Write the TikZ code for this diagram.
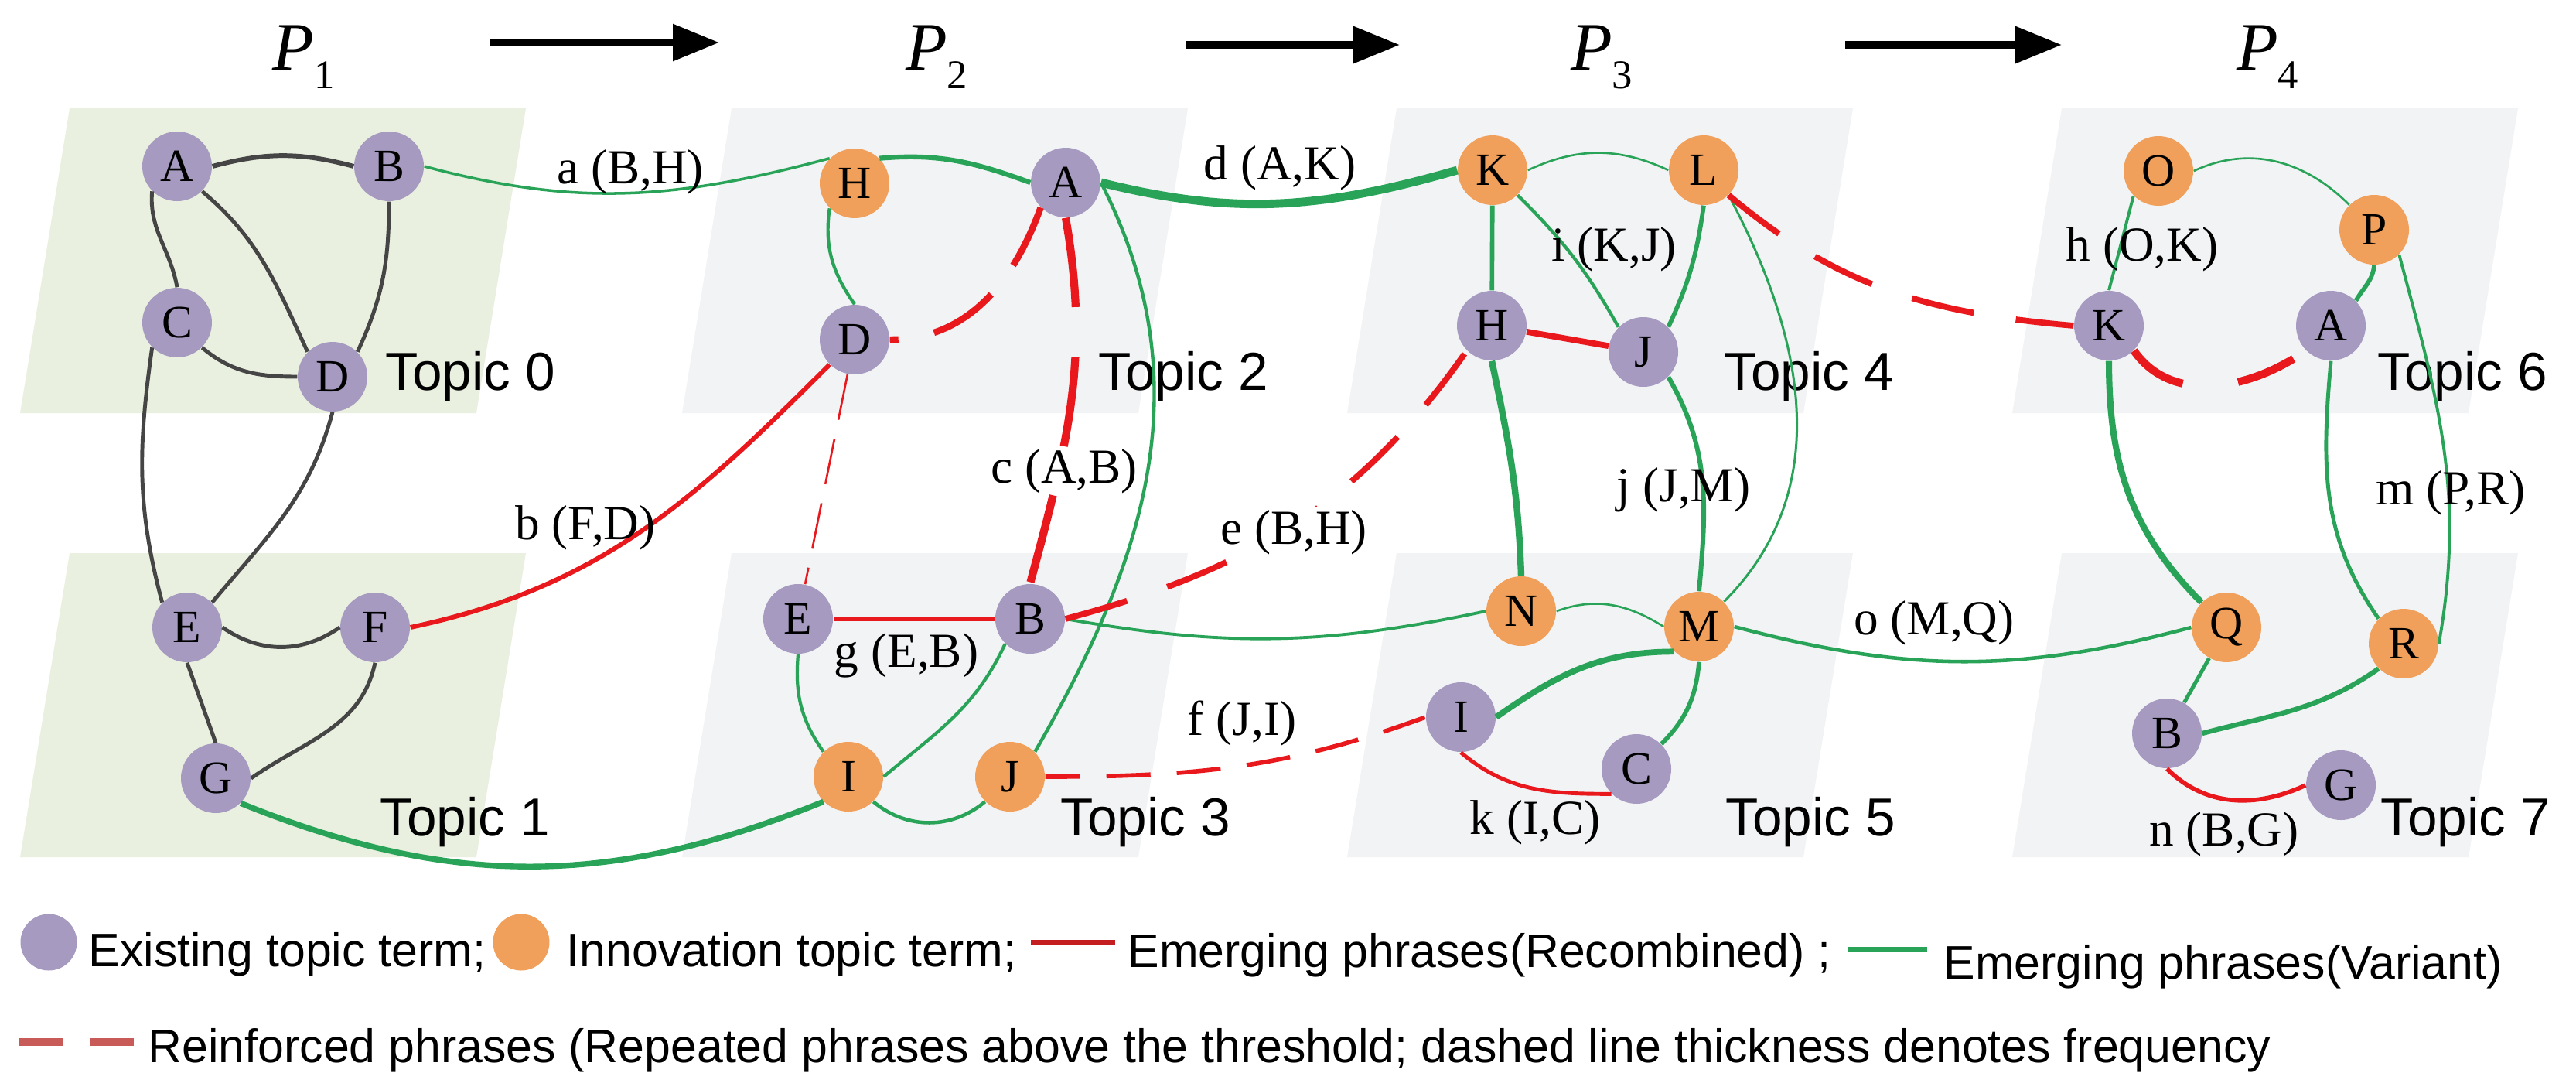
\documentclass[tikz,border=0pt]{standalone}
\usepackage{fontspec}
\setmainfont{Liberation Serif}
\setsansfont{Liberation Sans}
\usetikzlibrary{arrows.meta}
\definecolor{termpurple}{RGB}{166,154,192}
\definecolor{termorange}{RGB}{240,160,90}
\definecolor{vargreen}{RGB}{41,163,88}
\definecolor{recred}{RGB}{232,24,28}
\definecolor{linkgray}{RGB}{69,69,69}
\definecolor{oldbox}{RGB}{233,240,223}
\definecolor{newbox}{RGB}{242,243,245}
\definecolor{legred}{RGB}{196,30,32}
\definecolor{legdash}{RGB}{200,90,88}
\newcommand{\period}[1]{\textit{P}\raisebox{-0.28em}{\fontsize{15}{15}\selectfont #1}}
\begin{document}
\begin{tikzpicture}[
  term/.style={circle, fill=termpurple, minimum size=0.9cm, inner sep=0pt, font=\fontsize{17}{18}\selectfont},
  innov/.style={term, fill=termorange},
  oldedge/.style={draw=linkgray, line width=1.4pt},
  variant/.style={draw=vargreen},
  recomb/.style={draw=recred},
  reinf/.style={draw=recred},
  phrase/.style={font=\fontsize{18}{19}\selectfont, inner sep=1pt},
  topic/.style={font=\sffamily\fontsize{19.7}{22}\selectfont, anchor=base west, inner sep=0pt},
  legtext/.style={font=\sffamily\fontsize{17.3}{20}\selectfont, anchor=base west, inner sep=0pt}]
\useasboundingbox (0,0) rectangle (33.31,-14.08);
% topic panels
\foreach \x/\c in {0.90/oldbox, 9.46/newbox, 18.06/newbox, 26.66/newbox} {
  \fill[\c] (\x,-1.40) -- ++(5.90,0) -- ++(-0.64,-3.94) -- ++(-5.90,0) -- cycle;
  \fill[\c] (\x,-7.15) -- ++(5.90,0) -- ++(-0.64,-3.93) -- ++(-5.90,0) -- cycle;
}
% periods
\node[font=\fontsize{25}{28}\selectfont, anchor=base] (per1) at (3.93,-0.90) {\period{1}};
\node[font=\fontsize{25}{28}\selectfont, anchor=base] (per2) at (12.11,-0.90) {\period{2}};
\node[font=\fontsize{25}{28}\selectfont, anchor=base] (per3) at (20.71,-0.90) {\period{3}};
\node[font=\fontsize{25}{28}\selectfont, anchor=base] (per4) at (29.32,-0.90) {\period{4}};
\coordinate (ar1s) at (6.33,-0.55); \coordinate (ar1e) at (9.30,-0.55);
\coordinate (ar2s) at (15.34,-0.58); \coordinate (ar2e) at (18.10,-0.58);
\coordinate (ar3s) at (23.86,-0.58); \coordinate (ar3e) at (26.66,-0.58);
\draw[line width=2.6pt, -{Triangle[length=0.6cm, width=0.46cm]}] (ar1s) -- (ar1e);
\draw[line width=2.6pt, -{Triangle[length=0.6cm, width=0.46cm]}] (ar2s) -- (ar2e);
\draw[line width=2.6pt, -{Triangle[length=0.6cm, width=0.46cm]}] (ar3s) -- (ar3e);
% P1 terms
\node[term] (A1) at (2.29,-2.15) {A};
\node[term] (B1) at (5.03,-2.15) {B};
\node[term] (C1) at (2.29,-4.17) {C};
\node[term] (D1) at (4.30,-4.87) {D};
\node[term] (E1) at (2.42,-8.11) {E};
\node[term] (F1) at (4.85,-8.11) {F};
\node[term] (G1) at (2.79,-10.06) {G};
% P2 terms
\node[innov] (H2) at (11.05,-2.37) {H};
\node[term] (A2) at (13.78,-2.36) {A};
\node[term] (D2) at (11.05,-4.39) {D};
\node[term] (E2) at (10.32,-8.00) {E};
\node[term] (B2) at (13.32,-8.00) {B};
\node[innov] (I2) at (10.97,-10.04) {I};
\node[innov] (J2) at (13.06,-10.04) {J};
% P3 terms
\node[innov] (K3) at (19.30,-2.20) {K};
\node[innov] (L3) at (22.03,-2.20) {L};
\node[term] (H3) at (19.29,-4.21) {H};
\node[term] (J3) at (21.25,-4.55) {J};
\node[innov] (N3) at (19.67,-7.90) {N};
\node[innov] (M3) at (21.97,-8.10) {M};
\node[term] (I3) at (18.89,-9.27) {I};
\node[term] (C3) at (21.16,-9.94) {C};
% P4 terms
\node[innov] (O4) at (27.91,-2.21) {O};
\node[innov] (P4) at (30.70,-2.97) {P};
\node[term] (K4) at (27.27,-4.21) {K};
\node[term] (A4) at (30.14,-4.21) {A};
\node[innov] (Q4) at (28.79,-8.11) {Q};
\node[innov] (R4) at (31.08,-8.32) {R};
\node[term] (B4) at (28.02,-9.48) {B};
\node[term] (G4) at (30.27,-10.15) {G};
% topic names
\node[topic] (t0) at (4.98,-5.04) {Topic 0};
\node[topic] (t1) at (4.91,-10.80) {Topic 1};
\node[topic] (t2) at (14.20,-5.04) {Topic 2};
\node[topic] (t3) at (13.71,-10.80) {Topic 3};
\node[topic] (t4) at (22.29,-5.04) {Topic 4};
\node[topic] (t5) at (22.31,-10.80) {Topic 5};
\node[topic] (t6) at (30.74,-5.04) {Topic 6};
\node[topic] (t7) at (30.78,-10.80) {Topic 7};
% P1 links
\draw[oldedge, line width=1.7pt] (A1.east) to[out=15, in=165] (B1.west);
\draw[oldedge] (A1.south west) to[out=265, in=100] (C1.north);
\draw[oldedge] (A1.south east) to[out=-40, in=115] (D1.north west);
\draw[oldedge] (B1.south) to[out=270, in=65] (D1.north east);
\draw[oldedge] (C1.south east) to[out=-40, in=180] (D1.west);
\draw[oldedge] (C1.south west) to[out=262, in=105] (E1.north west);
\draw[oldedge] (D1.south) to[out=255, in=50] (E1.north east);
\draw[oldedge] (E1.east) to[out=-35, in=215] (F1.west);
\draw[oldedge] (E1.south) -- (G1.north);
\draw[oldedge] (F1.south) to[out=258, in=35] (G1.east);
% P1 to P2
\draw[variant, line width=1pt] (B1.east) to[out=-15, in=195] (H2.north west);
\draw[recomb, line width=1.7pt] (F1.east) to[out=12, in=225] (D2.south west);
\draw[variant, line width=2.1pt] (G1.south east) to[out=-22, in=202] (I2.south west);
% P2 links
\draw[variant, line width=1.8pt] (H2.north east) to[out=5, in=160] (A2.west);
\draw[variant, line width=1.2pt] (H2.south west) to[out=262, in=125] (D2.north);
\draw[reinf, line width=2.4pt, dash pattern=on 0.9cm off 0.47cm, dash phase=0.79cm] (D2.east) to[out=0, in=250] (A2.south west);
\draw[reinf, line width=2.9pt, dash pattern=on 1.16cm off 0.65cm] (A2.south) to[out=280, in=75] (B2.north);
\draw[variant, line width=1.25pt] (A2.east) to[out=-63, in=60] (J2.north east);
\draw[recomb, line width=1.8pt] (E2) -- (B2);
\draw[variant, line width=1.2pt] (E2.south) to[out=265, in=125] (I2.north west);
\draw[variant, line width=1.2pt] (B2.south west) to[out=245, in=40] (I2.east);
\draw[variant, line width=1.3pt] (I2.south east) to[out=-40, in=220] (J2.south west);
\draw[reinf, line width=0.75pt, dash pattern=on 0.6cm off 0.25cm] (D2) -- (E2);
% P2 to P3
\draw[variant, line width=3.1pt] (A2.east) to[out=-14, in=196] (K3.west);
\draw[variant, line width=1.1pt] (B2.east) to[out=-10, in=192] (N3.west);
\draw[reinf, line width=2.2pt, dash pattern=on 0.83cm off 0.55cm] (B2.east) to[out=15, in=235] (H3.south west);
\draw[reinf, line width=1.6pt, dash pattern=on 0.57cm off 0.34cm, dash phase=0.12cm] (J2.east) to[out=0, in=200] (I3.west);
% P3 links
\draw[variant, line width=0.75pt] (K3.east) to[out=25, in=155] (L3.west);
\draw[variant, line width=1.6pt] (K3) -- (H3);
\draw[variant, line width=1.2pt] (K3.south east) to[bend left=8] (J3.north west);
\draw[variant, line width=1.6pt] (L3.south) to[out=262, in=65] (J3.north east);
\draw[variant, line width=0.85pt] (L3.south east) to[out=-62, in=45] (M3.north east);
\draw[recomb, line width=2.2pt] (H3) -- (J3);
\draw[variant, line width=2.4pt] (H3.south) to[out=282, in=92] (N3.north);
\draw[variant, line width=1.7pt] (J3.south east) to[out=-60, in=85] (M3.north);
\draw[variant, line width=0.75pt] (N3.east) to[out=20, in=148] (M3.west);
\draw[variant, line width=2.2pt] (I3.east) to[out=35, in=180] (M3.south west);
\draw[recomb, line width=1.4pt] (I3.south) to[out=-40, in=180] (C3.south west);
\draw[variant, line width=1.6pt] (M3.south) to[out=265, in=45] (C3.north east);
% P3 to P4
\draw[reinf, line width=2.2pt, dash pattern=on 0.82cm off 0.55cm] (L3.south east) to[out=-40, in=175] (K4.west);
\draw[variant, line width=1.3pt] (M3.east) to[out=-15, in=195] (Q4.west);
% P4 links
\draw[variant, line width=0.75pt] (O4.east) to[out=25, in=135] (P4.north west);
\draw[variant, line width=1.1pt] (O4.south west) -- (K4.north);
\draw[variant, line width=1.6pt] (P4.south) to[out=265, in=60] (A4.north east);
\draw[reinf, line width=2.9pt, dash pattern=on 0.78cm off 0.72cm] (K4.south east) to[out=-55, in=215] (A4.south west);
\draw[variant, line width=2.3pt] (K4.south) to[out=270, in=135] (Q4.north west);
\draw[variant, line width=1.4pt] (A4.south) to[out=265, in=125] (R4.north west);
\draw[variant, line width=1.1pt] (P4.south east) to[out=-75, in=80] (R4.east);
\draw[variant, line width=1.4pt] (Q4) -- (B4);
\draw[variant, line width=1.8pt] (R4.south west) to[out=215, in=15] (B4.east);
\draw[recomb, line width=1.6pt] (B4.south) to[out=-45, in=205] (G4.west);
% phrase labels
\node[phrase] (la) at (8.15,-2.22) {a (B,H)};
\node[phrase] (lb) at (7.57,-6.82) {b (F,D)};
\node[phrase] (lc) at (13.76,-6.09) {c (A,B)};
\node[phrase] (ld) at (16.55,-2.17) {d (A,K)};
\node[phrase, fill=white] (le) at (16.73,-6.88) {e (B,H)};
\node[phrase] (lf) at (16.06,-9.35) {f (J,I)};
\node[phrase] (lg) at (11.72,-8.47) {g (E,B)};
\node[phrase] (lh) at (27.70,-3.22) {h (O,K)};
\node[phrase] (li) at (20.87,-3.22) {i (K,J)};
\node[phrase] (lj) at (21.77,-6.33) {j (J,M)};
\node[phrase] (lk) at (19.85,-10.63) {k (I,C)};
\node[phrase] (lm) at (31.69,-6.37) {m (P,R)};
\node[phrase] (ln) at (28.76,-10.78) {n (B,G)};
\node[phrase] (lo) at (25.01,-8.05) {o (M,Q)};
% legend
\node[term, minimum size=0.73cm] (lgold) at (0.63,-12.18) {};
\node[legtext] (lgoldt) at (1.14,-12.49) {Existing topic term;};
\node[innov, minimum size=0.73cm] (lgnew) at (6.74,-12.18) {};
\node[legtext] (lgnewt) at (7.32,-12.49) {Innovation topic term;};
\coordinate (lgrs) at (13.33,-12.18); \coordinate (lgre) at (14.42,-12.18);
\draw[legred, line width=2pt] (lgrs) -- (lgre);
\node[legtext] (lgrt) at (14.58,-12.50) {Emerging phrases(Recombined) ;};
\coordinate (lggs) at (23.90,-12.27); \coordinate (lgge) at (24.92,-12.27);
\draw[vargreen, line width=2pt] (lggs) -- (lgge);
\node[legtext] (lggt) at (25.13,-12.65) {Emerging phrases(Variant)};
\coordinate (lgds) at (0.25,-13.47); \coordinate (lgde) at (1.74,-13.47);
\draw[legdash, line width=2.8pt, dash pattern=on 0.56cm off 0.36cm] (lgds) -- (lgde);
\node[legtext] (lgdt) at (1.91,-13.73) {Reinforced phrases (Repeated phrases above the threshold; dashed line thickness denotes frequency};
\end{tikzpicture}
\end{document}
